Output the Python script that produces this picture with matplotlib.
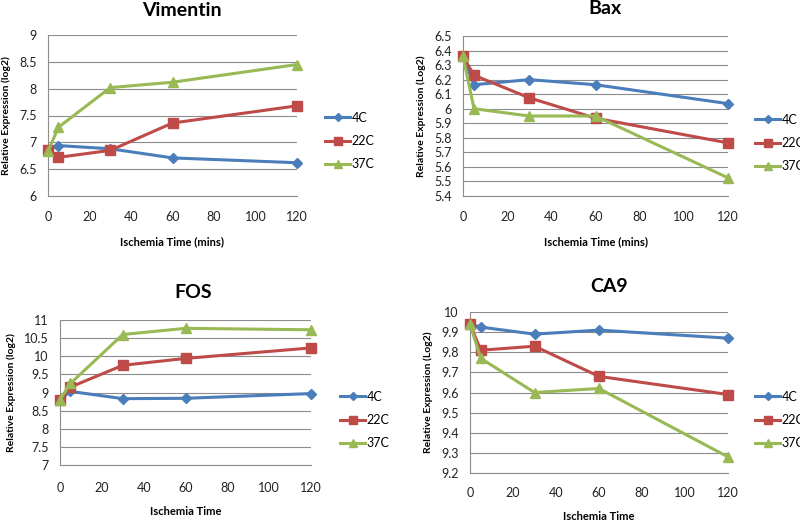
import matplotlib
matplotlib.use("Agg")
import matplotlib.pyplot as plt

plt.rcParams['font.family'] = ['Lato', 'DejaVu Sans']

# time points (minutes)
times = [0, 5, 30, 60, 120]
series_names = ['4C', '22C', '37C']

# Vimentin
vim_4c = [6.85, 6.94, 6.88, 6.71, 6.62]
vim_22c = [6.85, 6.72, 6.85, 7.36, 7.68]
vim_37c = [6.83, 7.28, 8.02, 8.12, 8.45]

# Bax
bax_4c = [6.36, 6.165, 6.20, 6.165, 6.035]
bax_22c = [6.36, 6.23, 6.075, 5.935, 5.765]
bax_37c = [6.36, 6.00, 5.95, 5.95, 5.525]

# FOS
fos_4c = [8.80, 9.03, 8.83, 8.84, 8.97]
fos_22c = [8.80, 9.15, 9.75, 9.94, 10.23]
fos_37c = [8.80, 9.25, 10.60, 10.77, 10.73]

# CA9
ca9_4c = [9.94, 9.925, 9.89, 9.91, 9.87]
ca9_22c = [9.94, 9.81, 9.83, 9.68, 9.59]
ca9_37c = [9.94, 9.77, 9.60, 9.62, 9.28]

colors = ['#4A7EBB', '#BE4B48', '#98B954']
markers = ['D', 's', '^']
msizes = [5, 7.5, 7.5]

fig = plt.figure(figsize=(8, 5.2), dpi=100, facecolor='white')


def px_axes(left, right, top, bottom):
    # axes box given in pixel coords of the 800x520 image
    return fig.add_axes([left / 800, 1 - bottom / 520, (right - left) / 800, (bottom - top) / 520])


def draw_panel(ax, title, data, ylim, ystep, ylabel, xlabel, title_x, title_y, leg_x, leg_y, xpad):
    for vals, name, c, m, ms in zip(data, series_names, colors, markers, msizes):
        ax.plot(times, vals, color=c, marker=m, markersize=ms, linewidth=2.2,
                markerfacecolor=c, markeredgecolor=c, label=name, clip_on=False, zorder=3)
    ax.set_xlim(0, 120)
    ax.set_ylim(*ylim)
    ax.set_xticks(range(0, 121, 20))
    n = int(round((ylim[1] - ylim[0]) / ystep))
    yt = [round(ylim[0] + i * ystep, 2) for i in range(n + 1)]
    ax.set_yticks(yt)
    ax.set_yticklabels([('%g' % v) for v in yt])
    ax.grid(axis='y', color='#8C8C8C', linewidth=0.8)
    ax.set_axisbelow(True)
    for s in ['top', 'right']:
        ax.spines[s].set_visible(False)
    for s in ['left', 'bottom']:
        ax.spines[s].set_color('#8C8C8C')
        ax.spines[s].set_linewidth(0.8)
    ax.tick_params(length=0, labelsize=9, colors='#222222')
    ax.tick_params(axis='x', pad=xpad)
    ax.tick_params(axis='y', pad=8)
    ax.set_ylabel(ylabel, fontsize=7.5, fontweight='bold', labelpad=6)
    ax.set_xlabel(xlabel, fontsize=8, fontweight='bold', labelpad=9)
    fig.text(title_x / 800, 1 - title_y / 520, title, fontsize=14,
             fontweight='bold', ha='center', va='center')
    ax.legend(loc='center left', bbox_to_anchor=(leg_x / 800, 1 - leg_y / 520),
              bbox_transform=fig.transFigure, frameon=False, fontsize=9,
              borderpad=0, borderaxespad=0, markerscale=0.8,
              handlelength=2.0, labelspacing=0.9, handletextpad=0.15, numpoints=1)


ax1 = px_axes(48, 297, 35, 196)
draw_panel(ax1, 'Vimentin', [vim_4c, vim_22c, vim_37c], (6, 9), 0.5,
           'Relative Expression (log2)', 'Ischemia Time (mins)', 182, 10, 325, 141, 11)

ax2 = px_axes(463, 728, 36, 196)
draw_panel(ax2, 'Bax', [bax_4c, bax_22c, bax_37c], (5.4, 6.5), 0.1,
           'Relative Expression (Log2)', 'Ischemia Time (mins)', 605, 9, 755, 143, 11)

ax3 = px_axes(60, 311, 320, 465)
draw_panel(ax3, 'FOS', [fos_4c, fos_22c, fos_37c], (7, 11), 0.5,
           'Relative Expression (log2)', 'Ischemia Time', 193, 292, 340, 420, 12)

ax4 = px_axes(470, 728, 312, 473)
draw_panel(ax4, 'CA9', [ca9_4c, ca9_22c, ca9_37c], (9.2, 10), 0.1,
           'Relative Expression (Log2)', 'Ischemia Time', 609, 286, 755, 420, 10)

fig.savefig('out.png', dpi=100, facecolor='white')
